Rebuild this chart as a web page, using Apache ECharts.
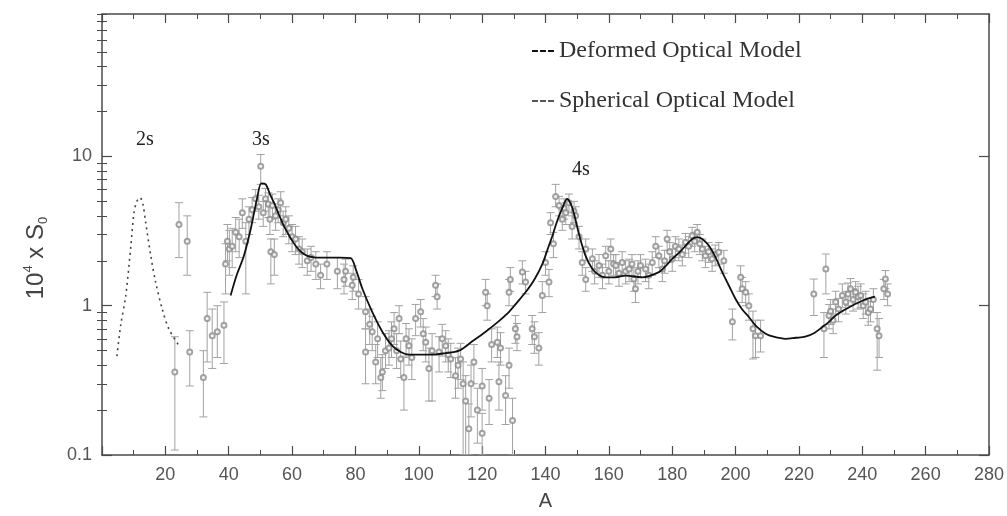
<!DOCTYPE html>
<html><head><meta charset="utf-8">
<script src="https://cdn.jsdelivr.net/npm/echarts@6/dist/echarts.min.js"></script>
<style>html,body{margin:0;padding:0;background:#fff}#c{width:1007px;height:516px}</style>
</head><body><div id="c"></div>
<script>
// ---- tick labels ----
const xTickLabels = [20,40,60,80,100,120,140,160,180,200,220,240,260,280];
const yTickLabels = [0.1,1,10];
const yMinorTicks = [0.2,0.3,0.4,0.5,0.6,0.7,0.8,0.9,2,3,4,5,6,7,8,9,20,30,40,50,60,70,80,90];
const shellLabels = ['2s','3s','4s'];

// ---- measured strength function: [A, S0(x1e4), low, high] ----
const pointsLight = [
 [23.0,0.36,0.108,0.62],[24.3,3.5,2.1,4.9],[26.9,2.7,1.6,4.0],[27.7,0.49,0.29,0.68],
 [32.0,0.33,0.18,0.50],[33.2,0.82,0.42,1.23],[34.8,0.63,0.38,0.95],[36.4,0.67,0.45,1.0],
 [38.5,0.74,0.41,1.06],[39.0,1.9,1.2,2.6],[39.6,2.7,2.0,3.5],[40.2,2.4,1.6,3.2],
 [41.1,2.5,1.8,3.3],[42.2,3.1,2.3,3.9],[43.3,2.9,2.1,3.8],[44.3,4.2,3.3,5.2],
 [45.4,2.7,1.2,3.6],[46.4,3.8,3.0,4.6],[47.4,4.4,3.6,5.3],[48.5,5.2,4.3,6.0],
 [49.5,4.6,3.8,5.5],[50.1,8.6,6.5,10.3],[50.9,4.2,3.4,5.0],[51.6,5.2,4.3,6.1],
 [52.5,4.8,3.9,5.7],[53.0,3.8,3.0,4.6],[53.3,2.3,1.4,2.8],[53.8,4.7,3.8,5.6],
 [54.4,2.2,1.6,2.8],[54.8,4.0,3.2,4.8],[55.6,4.4,3.6,5.2],[56.4,4.9,4.0,5.8],
 [57.2,3.6,2.9,4.3],[58.0,3.8,3.0,4.6],[59.0,3.3,2.6,4.0],[60.0,2.9,2.3,3.5],
 [61.1,2.8,2.2,3.4],[62.2,2.4,1.9,2.9],[63.2,2.3,1.8,2.8],[64.8,2.0,1.6,2.4],
 [66.0,2.1,1.7,2.5],[67.5,1.9,1.5,2.3],[69.0,1.6,1.3,1.9],[71.0,1.9,1.5,2.3],
 [74.3,1.7,1.3,2.1],[76.4,1.5,1.2,1.9],[76.9,1.7,1.35,2.05],[79.0,1.37,1.1,1.65],
 [79.3,1.55,1.25,1.85]
];
const pointsMid = [
 [81.0,1.2,0.95,1.5],[83.2,0.91,0.7,1.15],[83.2,0.49,0.30,0.7],[84.5,0.75,0.55,0.95],
 [85.3,0.67,0.5,0.85],[86.4,0.42,0.3,0.55],[87.0,0.6,0.45,0.78],[88.0,0.33,0.24,0.45],
 [88.5,0.36,0.27,0.47],[89.5,0.5,0.38,0.65],[90.6,0.52,0.4,0.68],[91.4,0.6,0.45,0.78],
 [92.2,0.70,0.55,0.9],[93.0,0.5,0.38,0.65],[93.8,0.82,0.65,1.0],[94.3,0.44,0.33,0.58],
 [95.3,0.33,0.2,0.45],[96.0,0.6,0.46,0.76],[96.9,0.54,0.4,0.7],[97.8,0.45,0.32,0.6],
 [99.0,0.82,0.63,1.02],[100.6,0.91,0.72,1.1],[101.4,0.65,0.5,0.82],[102.2,0.57,0.42,0.72],
 [103.2,0.38,0.23,0.52],[104.2,0.5,0.23,0.65],[105.3,1.37,1.15,1.6],[105.8,1.15,0.95,1.4],
 [106.4,0.49,0.36,0.62],[107.4,0.6,0.46,0.75],[108.5,0.54,0.42,0.68],[109.3,0.47,0.36,0.6],
 [110.1,0.44,0.33,0.56],[111.6,0.34,0.24,0.45],[112.4,0.40,0.28,0.52],[113.2,0.44,0.32,0.56],
 [114.0,0.3,0.1,0.42],[114.8,0.23,0.1,0.34],[115.8,0.15,0.1,0.22],[116.5,0.3,0.18,0.4],
 [117.4,0.42,0.3,0.55],[118.5,0.2,0.12,0.28],[120.0,0.29,0.2,0.38],[120.0,0.14,0.1,0.19],
 [121.1,1.23,1.0,1.5],[121.6,1.0,0.8,1.2],[122.2,0.24,0.16,0.32],[123.0,0.55,0.42,0.7],
 [124.8,0.57,0.45,0.72],[125.3,0.31,0.2,0.42],[125.8,0.52,0.4,0.66],[127.4,0.25,0.16,0.34],
 [128.5,1.23,1.0,1.5],[128.5,0.40,0.28,0.52],[128.9,1.5,1.25,1.8],[129.6,0.17,0.1,0.24],
 [130.5,0.70,0.56,0.86],[131.0,0.62,0.5,0.76],[132.7,1.68,1.4,2.0],[133.7,1.44,1.2,1.7],
 [135.8,0.70,0.55,0.86],[136.5,0.62,0.48,0.78],[137.9,0.52,0.4,0.66],[139.0,1.17,0.9,1.45],
 [140.0,1.95,1.6,2.3],[141.1,1.44,1.15,1.75],[141.6,3.6,3.0,4.2],[142.5,2.6,2.1,3.1],
 [143.2,5.4,4.6,6.5],[144.3,4.7,4.0,5.4],[145.3,3.8,3.2,4.4],[145.9,4.5,3.8,5.2],
 [146.4,4.2,3.5,4.9],[147.4,4.9,4.2,5.6],[148.4,3.4,2.8,4.0],[149.0,4.3,3.6,5.0],
 [149.5,4.0,3.4,4.6],[150.6,2.9,2.4,3.4],[151.6,1.95,1.6,2.3],[152.7,1.5,1.25,1.8],
 [152.7,2.4,2.0,2.8]
];
const pointsHeavy = [
 [154.8,2.06,1.7,2.4],[155.5,1.7,1.4,2.0],[156.9,1.86,1.55,2.2],[158.0,1.6,1.3,1.9],
 [159.0,2.16,1.8,2.5],[160.0,1.7,1.4,2.0],[160.6,2.4,2.0,2.8],[161.5,1.9,1.6,2.2],
 [162.2,1.86,1.55,2.2],[163.2,1.65,1.35,1.95],[164.2,1.95,1.6,2.3],[165.3,1.7,1.4,2.0],
 [166.4,1.76,1.45,2.05],[167.3,1.9,1.6,2.2],[167.9,1.51,1.25,1.8],[168.4,1.3,1.05,1.55],
 [169.2,1.7,1.4,2.0],[170.0,1.86,1.55,2.2],[171.6,1.76,1.45,2.05],[172.6,1.6,1.3,1.9],
 [173.7,1.95,1.6,2.3],[174.8,2.5,2.1,2.9],[175.8,2.16,1.8,2.5],[176.9,1.76,1.45,2.05],
 [177.6,2.0,1.65,2.35],[178.4,2.8,2.35,3.2],[179.2,2.3,1.95,2.65],[180.0,2.06,1.7,2.4],
 [181.0,2.5,2.1,2.9],[182.1,2.4,2.0,2.8],[183.2,2.2,1.85,2.55],[184.2,2.66,2.25,3.05],
 [185.2,2.5,2.1,2.9],[186.3,2.94,2.5,3.35],[187.1,2.7,2.3,3.1],[187.9,3.1,2.7,3.5],
 [188.7,2.6,2.2,3.0],[189.5,2.4,2.0,2.8],[190.5,2.16,1.8,2.5],[191.5,2.3,1.95,2.65],
 [192.6,2.06,1.7,2.4],[193.6,2.2,1.85,2.55],[194.7,2.28,1.9,2.65],[196.3,2.0,1.65,2.35],
 [199.0,0.78,0.59,0.95],[201.6,1.55,1.25,1.85],[202.1,1.3,1.05,1.55],[203.2,1.23,1.0,1.45],
 [204.2,1.0,0.8,1.2],[205.5,0.7,0.44,0.92],[206.3,0.63,0.45,0.8],[207.9,0.63,0.49,0.8],
 [224.7,1.2,0.86,1.51],[227.9,0.70,0.45,0.9],[228.5,1.76,1.2,2.22],[229.5,0.86,0.7,1.02],
 [230.0,0.92,0.75,1.1],[230.8,0.8,0.65,0.95],[231.6,1.06,0.88,1.25],[232.5,0.95,0.78,1.12],
 [233.7,1.17,0.97,1.4],[234.8,1.06,0.88,1.25],[235.5,1.2,1.0,1.42],[236.3,1.3,1.08,1.52],
 [237.1,1.1,0.92,1.3],[237.9,1.23,1.03,1.45],[238.7,1.15,0.95,1.35],[239.5,1.17,0.97,1.4],
 [240.3,1.0,0.82,1.2],[241.1,1.06,0.88,1.25],[241.9,0.9,0.74,1.07],[242.6,0.95,0.78,1.12],
 [243.5,1.1,0.9,1.3],[244.7,0.70,0.37,0.9],[245.3,0.63,0.45,0.82],[246.8,1.3,1.1,1.5],
 [247.3,1.51,1.3,1.72],[248.0,1.2,1.0,1.4]
];

// ---- model curves: [A, S0] ----
const deformedModel = [
 [40.6,1.17],[42.5,1.6],[44.8,2.16],[47.0,3.3],[49.0,5.3],[50.3,6.6],[51.7,6.5],[53.0,5.6],
 [54.3,4.9],[55.8,4.1],[57.4,3.43],[59.3,2.9],[61.1,2.52],[63.0,2.28],[64.8,2.16],[67.0,2.11],
 [70,2.1],[75,2.1],[78.5,2.08],[80.1,1.76],[82.2,1.30],[85.3,0.91],[88.5,0.67],[91.6,0.54],
 [94.3,0.49],[97,0.47],[100,0.47],[104,0.47],[108,0.48],[112.7,0.50],[117,0.58],[121.1,0.67],
 [125,0.78],[128.5,0.91],[131,1.05],[133.7,1.23],[136.5,1.5],[139.0,1.9],[141,2.5],[142.2,2.94],
 [143.5,3.6],[145.3,4.5],[146.8,5.2],[148.5,4.5],[150.6,3.0],[152.5,2.2],[154.8,1.76],[157,1.6],
 [159,1.55],[162,1.55],[165.3,1.59],[170.5,1.55],[175.8,1.68],[178,1.85],[180,2.06],[182.5,2.3],
 [184.2,2.52],[186.3,2.8],[187.9,2.88],[189.5,2.8],[191.6,2.52],[193.5,2.15],[195.8,1.68],[198,1.35],
 [200,1.11],[202,0.95],[204.2,0.84],[206.5,0.73],[209.5,0.65],[212,0.62],[215.8,0.60],[219,0.61],
 [222,0.62],[225,0.66],[227.4,0.72],[229.5,0.78],[231.6,0.86],[233.7,0.92],[236,0.98],[237.9,1.03],
 [240,1.08],[242,1.12],[244,1.15]
];
const sphericalModel = [
 [4.7,0.46],[5.9,0.74],[7.5,1.17],[9.1,2.5],[10.1,4.2],[11.0,5.0],[12.0,5.3],[12.9,4.8],
 [13.8,3.6],[15.4,2.16],[16.9,1.45],[19.0,0.95],[21.1,0.70],[24.3,0.54]
];

const measured = pointsLight.concat(pointsMid, pointsHeavy);
const AXC = '#4a4a4a';
const ERR = '#a2a2a2';

function renderErr(params, api) {
  const x = api.value(0);
  const t = api.coord([x, api.value(3)]);
  const b = api.coord([x, api.value(2)]);
  const w = 4;
  const st = {stroke: ERR, lineWidth: 1};
  return {type: 'group', children: [
    {type: 'line', shape: {x1: t[0], y1: t[1], x2: b[0], y2: b[1]}, style: st},
    {type: 'line', shape: {x1: t[0]-w, y1: t[1], x2: t[0]+w, y2: t[1]}, style: st},
    {type: 'line', shape: {x1: b[0]-w, y1: b[1], x2: b[0]+w, y2: b[1]}, style: st}
  ]};
}

const xBase = {
  type: 'value', min: 0, max: 280, interval: 20, gridIndex: 0,
  axisLine: {show: true, onZero: false, lineStyle: {color: AXC, width: 1.5}},
  axisTick: {show: true, inside: true, length: 9, lineStyle: {color: AXC, width: 1.2}},
  minorTick: {show: true, splitNumber: 2, length: 5, lineStyle: {color: AXC, width: 1}},
  splitLine: {show: false}
};
const yBase = {
  type: 'log', logBase: 10, min: 0.1, max: 90, gridIndex: 0,
  splitLine: {show: false}, minorSplitLine: {show: false}
};

const chart = echarts.init(document.getElementById('c'), null, {renderer: 'canvas'});
chart.setOption({
  animation: false,
  backgroundColor: '#fff',
  grid: {left: 102, right: 18, top: 14, bottom: 59},
  legend: {
    data: ['Deformed Optical Model', 'Spherical Optical Model'],
    orient: 'vertical', left: 527, top: 34, itemGap: 26,
    icon: 'path://M0,0h6v2h-6z M8,0h6v2h-6z M16,0h6v2h-6z',
    itemWidth: 22, itemHeight: 3,
    textStyle: {fontFamily: 'Liberation Serif', fontSize: 24, color: '#333'},
    selectedMode: false
  },
  xAxis: [
    Object.assign({}, xBase, {
      position: 'bottom', name: 'A', nameLocation: 'middle', nameGap: 36,
      nameTextStyle: {fontFamily: 'Liberation Sans', fontSize: 20, color: '#444'},
      axisLabel: {show: true, customValues: xTickLabels, margin: 11,
        fontFamily: 'Liberation Sans', fontSize: 18, color: '#555'}
    }),
    Object.assign({}, xBase, {position: 'top', axisLabel: {show: false}})
  ],
  yAxis: [
    Object.assign({}, yBase, {
      position: 'left',
      axisLine: {show: true, onZero: false, lineStyle: {color: AXC, width: 1.5}},
      axisTick: {show: true, inside: true, length: 10, customValues: yTickLabels, lineStyle: {color: AXC, width: 1.2}},
      axisLabel: {show: true, customValues: yTickLabels, margin: 10,
        fontFamily: 'Liberation Sans', fontSize: 18, color: '#555',
        formatter: v => String(v)}
    }),
    Object.assign({}, yBase, {
      position: 'left', axisLine: {show: false},
      axisTick: {show: true, inside: true, length: 5, customValues: yMinorTicks, lineStyle: {color: AXC, width: 1}},
      axisLabel: {show: false}
    }),
    Object.assign({}, yBase, {
      position: 'right',
      axisLine: {show: true, onZero: false, lineStyle: {color: AXC, width: 1.5}},
      axisTick: {show: true, inside: true, length: 10, customValues: yTickLabels, lineStyle: {color: AXC, width: 1.2}},
      axisLabel: {show: false}
    }),
    Object.assign({}, yBase, {
      position: 'right', axisLine: {show: false},
      axisTick: {show: true, inside: true, length: 5, customValues: yMinorTicks, lineStyle: {color: AXC, width: 1}},
      axisLabel: {show: false}
    })
  ],
  series: [
    {
      name: 'errors', type: 'custom', renderItem: renderErr, data: measured,
      encode: {x: 0, y: 1}, clip: true, z: 1, silent: true
    },
    {
      name: 'measured', type: 'scatter', data: measured.map(r => [r[0], r[1]]),
      symbol: 'emptyCircle', symbolSize: 5,
      itemStyle: {color: '#8c8c8c', borderColor: '#8c8c8c', borderWidth: 1}, z: 2, silent: true
    },
    {
      name: 'Deformed Optical Model', type: 'line', data: deformedModel, smooth: 0.3,
      showSymbol: false, lineStyle: {color: '#111', width: 1.8}, itemStyle: {color: '#111'}, z: 3
    },
    {
      name: 'Spherical Optical Model', type: 'line', data: sphericalModel, smooth: 0.3,
      showSymbol: false, lineStyle: {color: '#444', width: 1.6, type: [2, 4]}, itemStyle: {color: '#555'}, z: 3
    }
  ],
  graphic: [
    {type: 'text', x: 145, y: 140, style: {text: shellLabels[0], fontFamily: 'Liberation Serif', fontSize: 20, fill: '#222', align: 'center', verticalAlign: 'middle'}},
    {type: 'text', x: 261, y: 140, style: {text: shellLabels[1], fontFamily: 'Liberation Serif', fontSize: 20, fill: '#222', align: 'center', verticalAlign: 'middle'}},
    {type: 'text', x: 581, y: 170, style: {text: shellLabels[2], fontFamily: 'Liberation Serif', fontSize: 20, fill: '#222', align: 'center', verticalAlign: 'middle'}},
    {type: 'text', x: 36, y: 258, rotation: Math.PI / 2,
      style: {text: '10{sup|4} x S{sub|0}', fontFamily: 'Liberation Sans', fontSize: 24, fill: '#444',
        align: 'center', verticalAlign: 'middle',
        rich: {
          sup: {fontFamily: 'Liberation Sans', fontSize: 13, fill: '#444', verticalAlign: 'top', lineHeight: 28},
          sub: {fontFamily: 'Liberation Sans', fontSize: 13, fill: '#444', verticalAlign: 'bottom', lineHeight: 28}
        }}}
  ]
});
</script></body></html>
